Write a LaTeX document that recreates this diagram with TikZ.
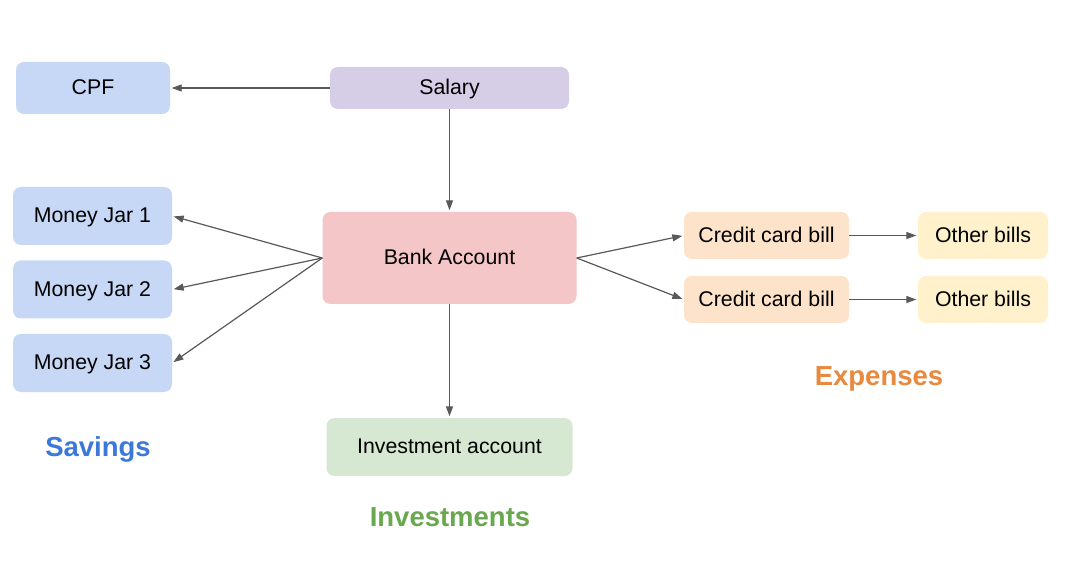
\documentclass[tikz,border=0pt]{standalone}
\usepackage{fontspec}
\setmainfont{Liberation Sans}
\usepackage{xcolor}
\usetikzlibrary{positioning,arrows.meta}

\definecolor{jarblue}{HTML}{C6D8F5}
\definecolor{salarypurple}{HTML}{D6CEE6}
\definecolor{bankred}{HTML}{F4C6C7}
\definecolor{investgreen}{HTML}{D6E8D1}
\definecolor{billorange}{HTML}{FCE3C9}
\definecolor{otheryellow}{HTML}{FEF1CB}
\definecolor{arrowgray}{HTML}{595959}
\definecolor{savingsblue}{HTML}{3C78D8}
\definecolor{investtext}{HTML}{6AA84F}
\definecolor{expensetext}{HTML}{E8893E}

\tikzset{
	box/.style={rounded corners=8pt, inner sep=0pt, text height=13.5pt, text depth=0pt, font=\fontsize{21.3}{25}\selectfont, text=black},
	flow/.style={draw=arrowgray, line width=1.2pt, -{Triangle[length=10pt,width=7pt]}, shorten >=1.5pt},
	heading/.style={inner sep=0pt, text height=19.7pt, text depth=0pt, font=\fontsize{27.5}{32}\selectfont\bfseries}
}

\begin{document}
\begin{tikzpicture}[x=1pt,y=-1pt]
	\useasboundingbox[fill=white] (0,0) rectangle (1066,561);

	% sources
	\node[box, fill=salarypurple, minimum width=239pt, minimum height=42pt] (salary) at (449.5,88) {Salary};
	\node[box, fill=jarblue, minimum width=154pt, minimum height=52pt] (cpf) at (93,88) {CPF};
	\node[box, fill=bankred, minimum width=254pt, minimum height=92pt] (bank) at (449.5,258) {Bank Account};

	% savings side
	\node[box, fill=jarblue, minimum width=159pt, minimum height=58pt] (jar1) at (92.5,216) {Money Jar 1};
	\node[box, fill=jarblue, minimum width=159pt, minimum height=58pt] (jar2) at (92.5,289.5) {Money Jar 2};
	\node[box, fill=jarblue, minimum width=159pt, minimum height=58pt] (jar3) at (92.5,363) {Money Jar 3};

	% investments
	\node[box, fill=investgreen, minimum width=246pt, minimum height=58pt] (invest) at (449.5,447) {Investment account};

	% expenses
	\node[box, fill=billorange, minimum width=165pt, minimum height=47pt] (card1) at (766.5,235.5) {Credit card bill};
	\node[box, fill=billorange, minimum width=165pt, minimum height=47pt] (card2) at (766.5,299.5) {Credit card bill};
	\node[box, fill=otheryellow, minimum width=130pt, minimum height=47pt] (other1) at (983,235.5) {Other bills};
	\node[box, fill=otheryellow, minimum width=130pt, minimum height=47pt] (other2) at (983,299.5) {Other bills};

	% group titles
	\node[heading, text=savingsblue] (savings) at (98,447) {Savings};
	\node[heading, text=investtext] (investments) at (450,517) {Investments};
	\node[heading, text=expensetext] (expenses) at (879,376) {Expenses};

	% connectors
	\draw[flow] (salary.west) -- (cpf.east);
	\draw[flow] (salary.south) -- (bank.north);
	\foreach \jar in {jar1,jar2,jar3}
		\draw[flow] (bank.west) -- (\jar.east);
	\draw[flow] (bank.east) -- (card1.west);
	\draw[flow] (bank.east) -- (card2.west);
	\draw[flow] (card1.east) -- (other1.west);
	\draw[flow] (card2.east) -- (other2.west);
	\draw[flow] (bank.south) -- (invest.north);
\end{tikzpicture}
\end{document}
